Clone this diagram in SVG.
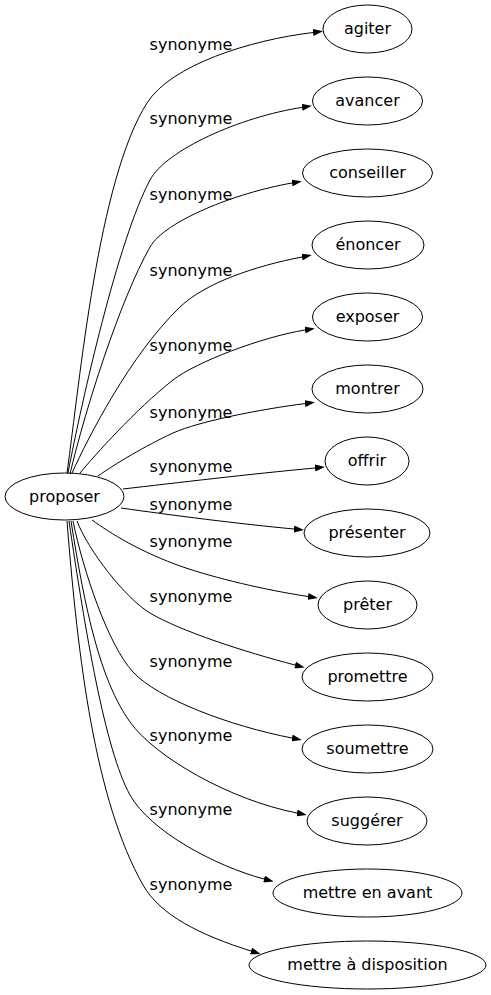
<svg xmlns="http://www.w3.org/2000/svg" width="491" height="995" viewBox="0 0 491 995">
<style>
.node ellipse{fill:none;stroke:#000;stroke-width:1}
text{font-family:"DejaVu Sans",Verdana,sans-serif;font-size:16px;fill:#000;text-anchor:middle}
.edges path{fill:none;stroke:#000;stroke-width:1;marker-end:url(#arr)}
</style>
<defs>
<marker id="arr" markerWidth="10" markerHeight="7" refX="0" refY="3.5" orient="auto" markerUnits="userSpaceOnUse"><path d="M0,0 L10,3.5 L0,7 z" fill="#000"/></marker>
</defs>
<rect width="491" height="995" fill="#fff"/>
<g class="edges" id="edges">
<path d="M67,473 C80,380 98,180 147,103 C171,65 250,40 313,32.5"/>
<path d="M68,473 C82,400 118,240 150,180 C166,150 240,117 302,107.4"/>
<path d="M70,474 C85,410 120,300 150,247 C165,221 235,193 292,183"/>
<path d="M72,473 C88,438 130,355 180,307 C205,283 255,266 302,257"/>
<path d="M80,473 C95,455 135,410 173,380 C196,362 262,337 305,330"/>
<path d="M98,476 C115,464 145,446 173,433 C200,421 262,409 305,403.6"/>
<path d="M123,489 C175,483 250,474 315,468"/>
<path d="M121,508 C170,515 240,524 294,529"/>
<path d="M92,520 C110,533 140,552 183,567 C215,578 265,590 308,596.5"/>
<path d="M77,521 C88,550 125,598 150,613 C180,631 245,652 295,665"/>
<path d="M73,521 C83,570 108,645 133,672 C158,699 230,726 292,738"/>
<path d="M71,521 C85,610 100,680 130,722 C155,757 230,800 297,813"/>
<path d="M69,521 C85,630 105,750 130,795 C150,831 215,866 264,879"/>
<path d="M67,521 C78,660 95,800 143,885 C160,915 200,935 251,951"/>
</g>
<g id="edge-labels">
<text x="191" y="49.5">synonyme</text>
<text x="191" y="124">synonyme</text>
<text x="191" y="199.5">synonyme</text>
<text x="191" y="276">synonyme</text>
<text x="191" y="351">synonyme</text>
<text x="191" y="418">synonyme</text>
<text x="191" y="472">synonyme</text>
<text x="191" y="509.5">synonyme</text>
<text x="191" y="547">synonyme</text>
<text x="191" y="602">synonyme</text>
<text x="191" y="667">synonyme</text>
<text x="191" y="740.5">synonyme</text>
<text x="191" y="814.5">synonyme</text>
<text x="191" y="889.5">synonyme</text>
</g>
<g class="node" id="n-proposer"><ellipse cx="64.5" cy="496.5" rx="59.5" ry="23.5"/><text x="64.5" y="501.5">proposer</text></g>
<g class="node" id="n-agiter"><ellipse cx="367.5" cy="29" rx="44.5" ry="24"/><text x="367.5" y="34">agiter</text></g>
<g class="node" id="n-avancer"><ellipse cx="367.5" cy="101" rx="55" ry="24"/><text x="367.5" y="106">avancer</text></g>
<g class="node" id="n-conseiller"><ellipse cx="367.5" cy="173" rx="65" ry="24"/><text x="367.5" y="178">conseiller</text></g>
<g class="node" id="n-enoncer"><ellipse cx="368" cy="245" rx="56" ry="24"/><text x="368" y="250">énoncer</text></g>
<g class="node" id="n-exposer"><ellipse cx="367.5" cy="317" rx="55" ry="24"/><text x="367.5" y="322">exposer</text></g>
<g class="node" id="n-montrer"><ellipse cx="367.5" cy="389" rx="55.5" ry="24"/><text x="367.5" y="394">montrer</text></g>
<g class="node" id="n-offrir"><ellipse cx="367" cy="461" rx="42" ry="24"/><text x="367" y="466">offrir</text></g>
<g class="node" id="n-presenter"><ellipse cx="367" cy="533" rx="63" ry="24"/><text x="367" y="538">présenter</text></g>
<g class="node" id="n-preter"><ellipse cx="367.5" cy="605" rx="49.5" ry="24"/><text x="367.5" y="610">prêter</text></g>
<g class="node" id="n-promettre"><ellipse cx="367.5" cy="677" rx="65.5" ry="24"/><text x="367.5" y="682">promettre</text></g>
<g class="node" id="n-soumettre"><ellipse cx="367.5" cy="749" rx="65.5" ry="24"/><text x="367.5" y="754">soumettre</text></g>
<g class="node" id="n-suggerer"><ellipse cx="367" cy="821" rx="60" ry="24"/><text x="367" y="826">suggérer</text></g>
<g class="node" id="n-mettre-en-avant"><ellipse cx="367.5" cy="893" rx="94.5" ry="24"/><text x="367.5" y="898">mettre en avant</text></g>
<g class="node" id="n-mettre-a-disposition"><ellipse cx="367.5" cy="965" rx="118.5" ry="24"/><text x="367.5" y="970">mettre à disposition</text></g>
</svg>
